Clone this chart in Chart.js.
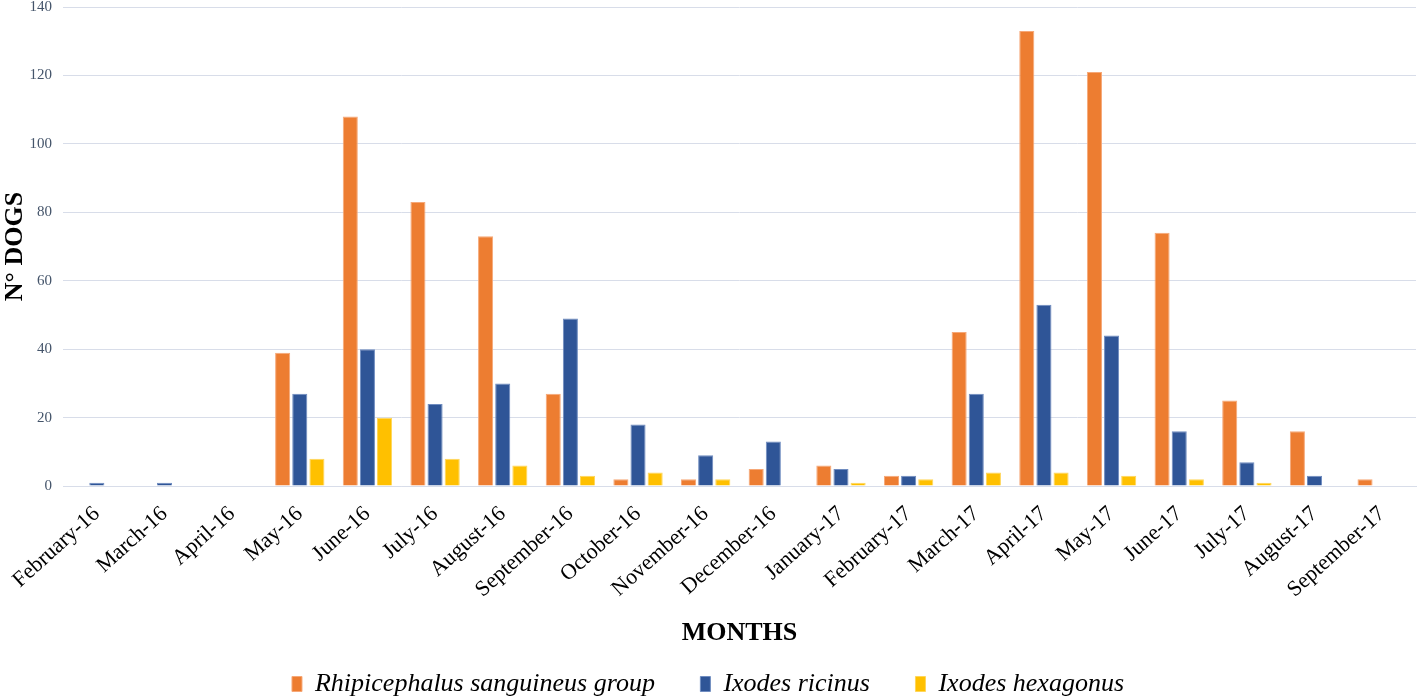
<!DOCTYPE html>
<html>
<head>
<meta charset="utf-8">
<script src="https://cdn.jsdelivr.net/npm/chart.js@4"></script>
<style>
  html, body { margin: 0; padding: 0; background: #fff; }
  #wrap { width: 1418px; height: 699px; }
</style>
</head>
<body>
<div id="wrap"><canvas id="tickChart"></canvas></div>
<script>
const months = ["February-16", "March-16", "April-16", "May-16", "June-16", "July-16", "August-16",
    "September-16", "October-16", "November-16", "December-16", "January-17", "February-17",
    "March-17", "April-17", "May-17", "June-17", "July-17", "August-17", "September-17"];
const rhipicephalus = [0, 0, 0, 39, 108, 83, 73, 27, 2, 2, 5, 6, 3, 45, 133, 121, 74, 25, 16, 2];
const ricinus = [1, 1, 0, 27, 40, 24, 30, 49, 18, 9, 13, 5, 3, 27, 53, 44, 16, 7, 3, 0];
const hexagonus = [0, 0, 0, 8, 20, 8, 6, 3, 4, 2, 0, 1, 2, 4, 4, 3, 2, 1, 0, 0];
const yTicks = [0, 20, 40, 60, 80, 100, 120, 140];

const serif = "'Liberation Serif', 'DejaVu Serif', serif";
const tickColor = "#44546A";
const gridColor = "#D8DDE9";

function makeSet(label, data, fill, edge) {
    return {
        label: label,
        data: data,
        backgroundColor: fill,
        borderColor: edge,
        borderWidth: 1,
        barPercentage: 0.88,
        categoryPercentage: 0.76,
    };
}

const ctx = document.getElementById("tickChart").getContext("2d");
new Chart(ctx, {
    type: "bar",
    data: {
        labels: months,
        datasets: [
            makeSet("Rhipicephalus sanguineus group", rhipicephalus, "#ED7D31", "#F6A878"),
            makeSet("Ixodes ricinus", ricinus, "#2F5597", "#6F8CC0"),
            makeSet("Ixodes hexagonus", hexagonus, "#FFC000", "#FFD659"),
        ],
    },
    options: {
        responsive: true,
        maintainAspectRatio: false,
        animation: false,
        layout: { padding: { top: 0, right: 2, bottom: -8, left: 0 } },
        scales: {
            x: {
                afterFit: (axis) => {
                    axis.height = axis.height + 10;
                },
                grid: { display: false },
                border: { display: true, color: gridColor, width: 1 },
                ticks: {
                    color: "#000",
                    font: { family: serif, size: 22 },
                    maxRotation: 42,
                    minRotation: 42,
                    autoSkip: false,
                    padding: 7,
                },
                title: {
                    display: true,
                    text: "MONTHS",
                    color: "#000",
                    font: { family: serif, size: 26, weight: "bold", lineHeight: 1 },
                    padding: { top: 0, bottom: 25 },
                },
            },
            y: {
                min: 0,
                max: 140,
                afterBuildTicks: (axis) => {
                    axis.ticks = yTicks.map((v) => ({ value: v }));
                },
                afterFit: (axis) => {
                    axis.width = 63;
                    axis.paddingTop = 7;
                },
                grid: { color: gridColor, drawTicks: false },
                border: { display: false },
                ticks: {
                    color: tickColor,
                    font: { family: serif, size: 15 },
                    padding: 11,
                },
                title: {
                    display: true,
                    text: "N° DOGS",
                    color: "#000",
                    font: { family: serif, size: 26, weight: "bold" },
                    padding: { top: 0, bottom: 2 },
                },
            },
        },
        plugins: {
            legend: {
                position: "bottom",
                labels: {
                    color: "#000",
                    font: { family: serif, size: 26, style: "italic" },
                    boxWidth: 10,
                    boxHeight: 15,
                    padding: 0,
                    // extra room after the first two entries, like the original legend
                    generateLabels: (chart) => {
                        const items = Chart.defaults.plugins.legend.labels.generateLabels(chart);
                        items.forEach((item, i) => {
                            if (i < items.length - 1) item.text = item.text + "       ";
                        });
                        return items;
                    },
                },
            },
            tooltip: { enabled: true },
        },
    },
});
</script>
</body>
</html>
